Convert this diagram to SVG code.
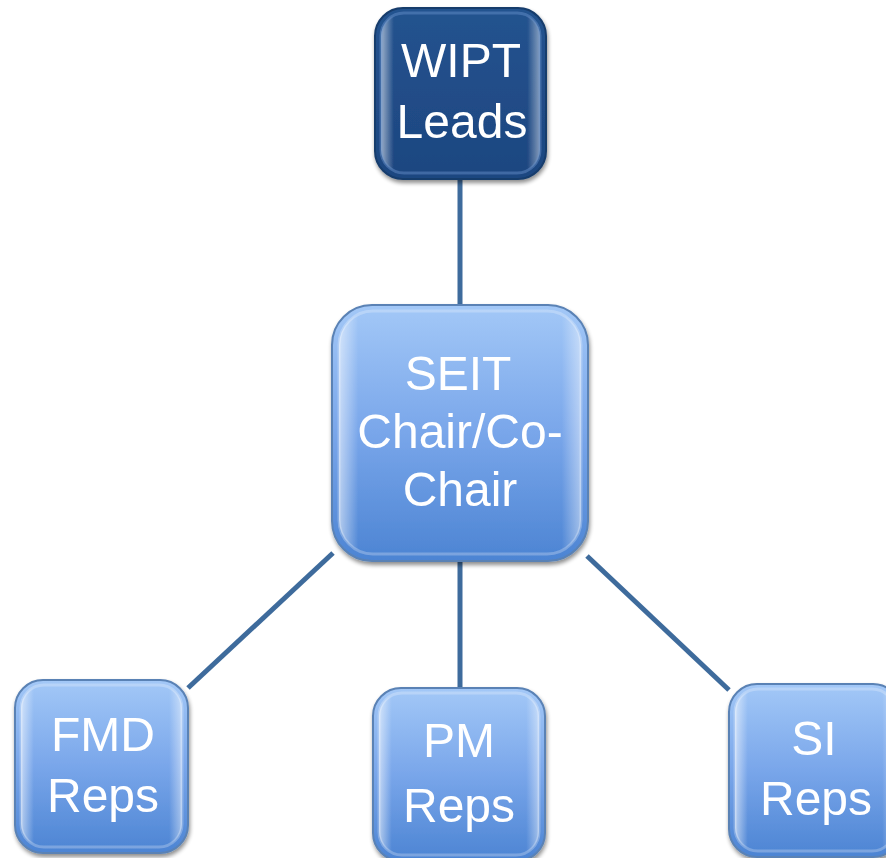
<svg xmlns="http://www.w3.org/2000/svg" width="886" height="858" viewBox="0 0 886 858">
<defs>
<linearGradient id="gLight" x1="0" y1="0" x2="0" y2="1">
<stop offset="0" stop-color="#a3c8f7"/>
<stop offset="0.5" stop-color="#79a6ea"/>
<stop offset="1" stop-color="#4c84d3"/>
</linearGradient>
<linearGradient id="gDark" x1="0" y1="0" x2="0" y2="1">
<stop offset="0" stop-color="#24538f"/>
<stop offset="1" stop-color="#1d4680"/>
</linearGradient>
<linearGradient id="gRimL" x1="0" y1="0" x2="1" y2="0">
<stop offset="0" stop-color="#ffffff" stop-opacity="0.55"/>
<stop offset="0.08" stop-color="#ffffff" stop-opacity="0"/>
<stop offset="0.92" stop-color="#ffffff" stop-opacity="0"/>
<stop offset="1" stop-color="#ffffff" stop-opacity="0.45"/>
</linearGradient>
<filter id="sh" x="-20%" y="-20%" width="140%" height="140%">
<feGaussianBlur in="SourceAlpha" stdDeviation="2"/>
<feOffset dx="1" dy="3"/>
<feComponentTransfer><feFuncA type="linear" slope="0.45"/></feComponentTransfer>
<feMerge><feMergeNode/><feMergeNode in="SourceGraphic"/></feMerge>
</filter>
</defs>
<style>
.conn{stroke:#3e6b9c;stroke-width:5;fill:none}
.light{fill:url(#gLight);stroke:#5a82b5;stroke-width:2}
.dark{fill:url(#gDark);stroke:#173c6c;stroke-width:2}
.rim{fill:url(#gRimL);stroke:#ffffff;stroke-opacity:0.25;stroke-width:3}
.rimd{fill:url(#gRimL);stroke:#6a95cf;stroke-opacity:0.45;stroke-width:3}
.t{font-family:"Liberation Sans",Arial,sans-serif;font-size:48px;fill:#ffffff;text-anchor:middle}
</style>
<rect width="886" height="858" fill="#ffffff"/>
<g id="connectors">
<line class="conn" x1="460" y1="178" x2="460" y2="308"/>
<line class="conn" x1="460" y1="560" x2="460" y2="690"/>
<line class="conn" x1="333" y1="553" x2="188" y2="688"/>
<line class="conn" x1="587" y1="556" x2="729" y2="690"/>
</g>
<g id="wipt" filter="url(#sh)">
<rect class="dark" x="375" y="8" width="171" height="171" rx="28"/>
<rect class="rimd" x="381" y="13" width="159" height="160" rx="23"/>
<text class="t" x="461" y="77">WIPT</text>
<text class="t" x="462" y="138">Leads</text>
</g>
<g id="seit" filter="url(#sh)">
<rect class="light" x="332" y="305" width="256" height="256" rx="40"/>
<rect class="rim" x="339" y="311" width="242" height="243" rx="34"/>
<text class="t" x="458" y="390">SEIT</text>
<text class="t" x="460" y="448">Chair/Co-</text>
<text class="t" x="460" y="506">Chair</text>
</g>
<g id="fmd" filter="url(#sh)">
<rect class="light" x="15" y="680" width="173" height="173" rx="28"/>
<rect class="rim" x="21" y="685" width="161" height="162" rx="23"/>
<text class="t" x="103" y="751">FMD</text>
<text class="t" x="103" y="812">Reps</text>
</g>
<g id="pm" filter="url(#sh)">
<rect class="light" x="373" y="688" width="172" height="173" rx="28"/>
<rect class="rim" x="379" y="693" width="160" height="162" rx="23"/>
<text class="t" x="459" y="757">PM</text>
<text class="t" x="459" y="822">Reps</text>
</g>
<g id="si" filter="url(#sh)">
<rect class="light" x="729" y="684" width="172" height="173" rx="28"/>
<rect class="rim" x="735" y="689" width="160" height="162" rx="23"/>
<text class="t" x="814" y="755">SI</text>
<text class="t" x="816" y="815">Reps</text>
</g>
</svg>
